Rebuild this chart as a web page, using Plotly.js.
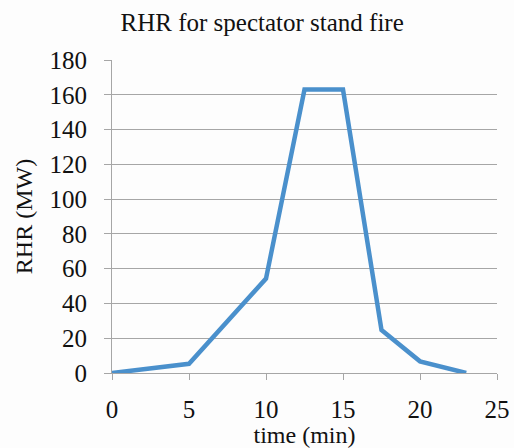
<!DOCTYPE html>
<html><head><meta charset="utf-8">
<script src="https://cdn.plot.ly/plotly-3.0.1.min.js"></script>
<style>html,body{margin:0;padding:0;background:#fdfdfd;}</style>
</head><body>
<div id="chart" style="width:514px;height:448px;"></div>
<script>
const timeMin = [0, 5, 10, 12.5, 15, 17.5, 20, 23];
const rhrMW = [0, 5.3, 54.3, 163, 163, 24.7, 6.7, 0];
const xTicks = [0, 5, 10, 15, 20, 25];
const yTicks = [0, 20, 40, 60, 80, 100, 120, 140, 160, 180];
const serif = "Liberation Serif, Times New Roman, serif";

Plotly.newPlot('chart', [{
  x: timeMin, y: rhrMW, type: 'scatter', mode: 'lines',
  line: {color: '#4a90cc', width: 4.5},
  cliponaxis: false
}], {
  width: 514, height: 448,
  paper_bgcolor: '#fdfdfd', plot_bgcolor: '#fdfdfd',
  margin: {l: 112, r: 17, t: 60, b: 75},
  showlegend: false,
  font: {family: serif},
  title: {text: 'RHR for spectator stand fire', font: {family: serif, size: 25, color: '#111'}, x: 0.51, xanchor: 'center', y: 0.95, yanchor: 'middle'},
  xaxis: {
    range: [0, 25], tickvals: xTicks, ticktext: xTicks.map(String),
    showgrid: false, zeroline: false, showline: true, linecolor: '#a6a6a6', linewidth: 1,
    ticks: 'outside', ticklen: 6, tickcolor: '#a6a6a6', ticklabelstandoff: 8,
    tickfont: {family: serif, size: 25, color: '#111'},
    title: {text: 'time (min)', font: {family: serif, size: 24, color: '#111'}, standoff: 3}
  },
  yaxis: {
    range: [0, 180], tickvals: yTicks, ticktext: yTicks.map(String),
    showgrid: true, gridcolor: '#a6a6a6', gridwidth: 1, zeroline: false,
    showline: true, linecolor: '#a6a6a6', linewidth: 1,
    ticks: 'outside', ticklen: 7, tickcolor: '#a6a6a6', ticklabelstandoff: 12,
    tickfont: {family: serif, size: 25, color: '#111'},
    title: {text: 'RHR (MW)', font: {family: serif, size: 24, color: '#111'}, standoff: 10}
  }
}, {displayModeBar: false, staticPlot: true});
</script>
</body></html>
